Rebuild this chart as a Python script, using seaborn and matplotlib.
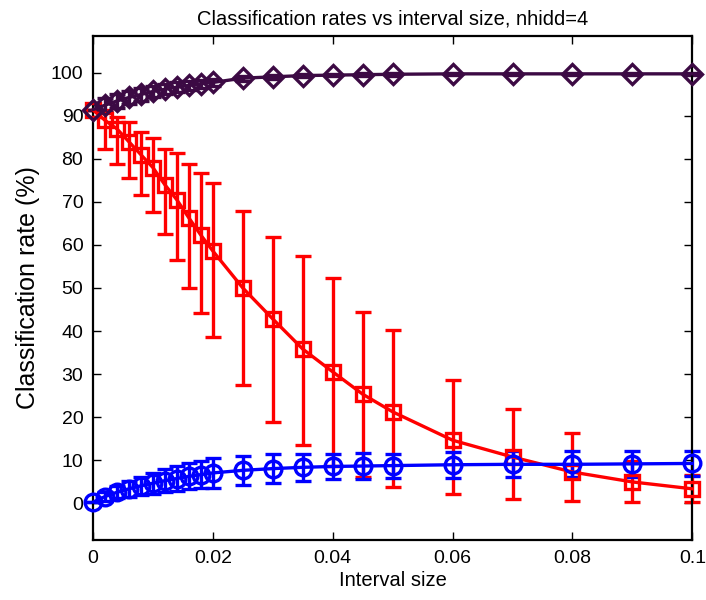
import numpy as np
import matplotlib
matplotlib.use("Agg")
import matplotlib.pyplot as plt
import seaborn as sns

# ---- data ----
interval = [0, 0.002, 0.004, 0.006, 0.008, 0.010, 0.012, 0.014, 0.016, 0.018, 0.020,
            0.025, 0.030, 0.035, 0.040, 0.045, 0.050, 0.060, 0.070, 0.080, 0.090, 0.100]

red_mean = [91.4, 89.0, 87.0, 84.0, 81.0, 78.0, 74.0, 70.5, 66.3, 62.3, 58.6,
            50.0, 42.8, 35.8, 30.5, 25.3, 21.2, 14.6, 10.7, 7.2, 4.9, 3.3]
red_upper = [91.4, 91.5, 89.8, 88.6, 86.3, 84.9, 82.3, 81.4, 78.8, 76.7, 74.4,
             67.9, 61.9, 57.4, 52.3, 44.4, 40.2, 28.6, 21.9, 16.3, 9.7, 6.4]
red_lower = [91.4, 82.3, 78.8, 75.6, 71.6, 67.7, 62.6, 56.5, 50.0, 44.2, 38.6,
             27.4, 18.8, 13.5, 8.5, 6.0, 3.7, 2.1, 0.9, 0.5, 0.2, 0.2]

blue_mean = [0.2, 1.5, 2.5, 3.3, 4.0, 4.6, 5.2, 5.7, 6.2, 6.6, 7.0,
             7.6, 8.0, 8.3, 8.5, 8.6, 8.7, 8.9, 9.0, 9.0, 9.1, 9.2]
blue_err = [0.0, 1.0, 1.4, 1.8, 2.1, 2.4, 2.6, 2.8, 3.0, 3.2, 3.4,
            3.4, 3.3, 3.2, 3.0, 3.0, 2.8, 3.0, 3.0, 3.0, 3.0, 3.0]

purple_mean = [91.5, 92.5, 93.5, 94.3, 95.0, 95.7, 96.2, 96.7, 97.1, 97.5, 97.8,
               98.8, 99.1, 99.4, 99.5, 99.6, 99.7, 99.8, 99.8, 99.8, 99.8, 99.8]
purple_err = [0.0, 1.6, 1.6, 1.5, 1.4, 1.3, 1.2, 1.1, 1.0, 0.9, 0.8,
              0.6, 0.5, 0.4, 0.3, 0.3, 0.3, 0.2, 0.2, 0.2, 0.2, 0.2]

title = "Classification rates vs interval size, nhidd=4"
xlabel = "Interval size"
ylabel = "Classification rate (%)"
xticks = [0, 0.02, 0.04, 0.06, 0.08, 0.1]
xticklabels = ["0", "0.02", "0.04", "0.06", "0.08", "0.1"]
yticks = list(range(0, 101, 10))

# ---- style ----
sns.set_theme(style="ticks")
plt.rcParams["font.family"] = ["Liberation Sans", "DejaVu Sans"]
plt.rcParams["text.color"] = "black"
plt.rcParams["axes.labelcolor"] = "black"

RED = "#ff0000"
BLUE = "#0000ff"
PURPLE = "#3c0a44"

fig = plt.figure(figsize=(7.06, 6.0), dpi=100)
ax = fig.add_axes([0.1317, 0.10, 0.849, 0.84])

x = np.array(interval)

def draw(mean, lo, hi, color, marker, ms):
    mean = np.array(mean)
    ax.errorbar(x, mean, yerr=[mean - np.array(lo), np.array(hi) - mean],
                fmt="none", ecolor=color, elinewidth=2.4, capsize=5.5, capthick=2.4,
                zorder=2, clip_on=False)
    sns.lineplot(x=x, y=mean, ax=ax, color=color, linewidth=2.4, marker=marker,
                 markersize=ms, markerfacecolor="none", markeredgecolor=color,
                 markeredgewidth=2.4, errorbar=None, zorder=3, clip_on=False)

draw(red_mean, red_lower, red_upper, RED, "s", 10)
bm = np.array(blue_mean); be = np.array(blue_err)
draw(blue_mean, bm - be, bm + be, BLUE, "o", 12)
pm = np.array(purple_mean); pe = np.array(purple_err)
draw(purple_mean, pm - pe, pm + pe, PURPLE, "D", 10.5)

ax.set_xlim(0, 0.1)
ax.set_ylim(-8.6, 108.6)
ax.set_xticks(xticks)
ax.set_xticklabels(xticklabels)
ax.set_yticks(yticks)
ax.tick_params(axis="both", direction="in", length=6, width=1, labelsize=14,
               top=True, right=True, colors="black", labelcolor="black", pad=7)
for s in ax.spines.values():
    s.set_visible(True)
    s.set_linewidth(1.6)
    s.set_color("black")

ax.set_title(title, fontsize=14.5, pad=8, color="black")
ax.set_xlabel(xlabel, fontsize=14.5, labelpad=3)
ax.set_ylabel(ylabel, fontsize=18, labelpad=8)
ax.grid(False)

fig.savefig("out.png", dpi=100)
